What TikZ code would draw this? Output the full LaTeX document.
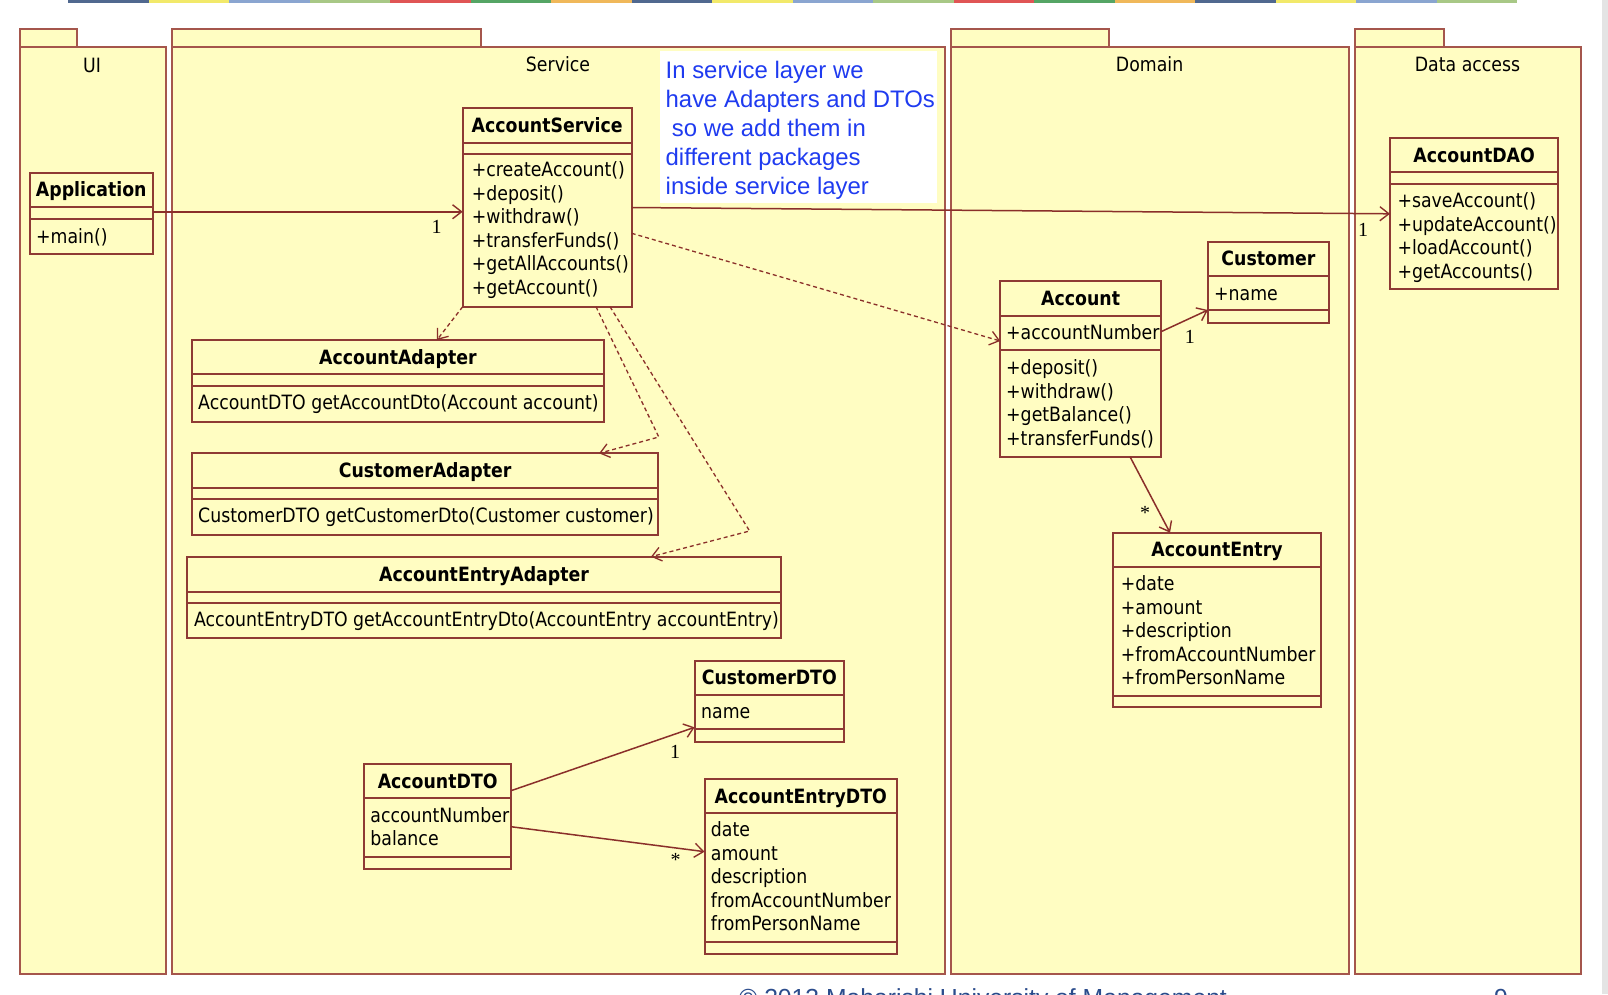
\documentclass[tikz,border=0pt]{standalone}
\usepackage{fontspec}
\setmainfont{DejaVu Sans}[FakeStretch=0.88]
\newfontfamily\notefont{Liberation Sans}
\newfontfamily\multfont{Liberation Serif}
\usetikzlibrary{arrows.meta}

\definecolor{pkgfill}{HTML}{FFFDC2}
\definecolor{pkgline}{HTML}{A5564C}
\definecolor{clsline}{HTML}{8E3A34}
\definecolor{conn}{HTML}{8A2F2A}
\definecolor{notetext}{HTML}{1F3BF0}
\definecolor{foot}{HTML}{2B4C8C}
\definecolor{edge}{HTML}{E4E4E4}
\definecolor{sA}{HTML}{50688F}
\definecolor{sB}{HTML}{F2E96A}
\definecolor{sC}{HTML}{8AA5D0}
\definecolor{sD}{HTML}{A8C886}
\definecolor{sE}{HTML}{E05555}
\definecolor{sF}{HTML}{55A565}
\definecolor{sG}{HTML}{F0B85A}

\newcommand{\umlfont}{\fontsize{19.7}{23.5}\selectfont}
\newcommand{\umlbold}{\umlfont\bfseries}

\tikzset{
  pkg/.style={draw=pkgline, fill=pkgfill, line width=2pt},
  pkglabel/.style={font=\umlfont, anchor=base, inner sep=0pt},
  cls/.style={rectangle, draw=clsline, fill=pkgfill, line width=2pt,
    inner sep=0pt, outer sep=0pt},
  cdiv/.style={draw=clsline, line width=2pt},
  ctitle/.style={font=\umlbold, anchor=base, inner sep=0pt},
  mem/.style={font=\umlfont, anchor=base west, inner sep=0pt},
  mult/.style={font=\multfont\fontsize{20}{22}\selectfont, inner sep=0pt},
  assoc/.style={draw=conn, line width=1.5pt,
    -{Straight Barb[length=9pt,width=14pt,line width=1.4pt]}},
  dep/.style={draw=conn, line width=1.3pt, dash pattern=on 4pt off 3pt,
    -{Straight Barb[length=9pt,width=14pt,line width=1.3pt]}},
  notebox/.style={fill=white, draw=none},
  noteline/.style={font=\notefont\fontsize{23.9}{28.9}\selectfont,
    text=notetext, anchor=base west, inner sep=0pt},
}

% class box: name, x1, y1, x2, y2, first divider, second divider, title
\newcommand{\umlclass}[8]{%
  \node[cls, anchor=north west, minimum width={#4-#2}, minimum height={#5-#3}]
    (#1) at (#2,#3) {};
  \draw[cdiv] (#2,#6) -- (#4,#6) (#2,#7) -- (#4,#7);
  \node[ctitle] (#1-title) at ({(#2+#4)/2},{(#3+#6)/2+7}) {#8};
}
% member lines: name, x, first baseline, line step, list
\newcommand{\umlmembers}[5]{%
  \foreach \m [count=\k from 0] in {#5}
    \node[mem] (#1-\k) at (#2,{#3+#4*\k}) {\m};
}

\begin{document}
\begin{tikzpicture}[x=1pt,y=-1pt]
\useasboundingbox (0,0) rectangle (1608,994);
\fill[white] (0,0) rectangle (1608,994);
\fill[edge] (1602,0) rectangle (1608,994);

% colour band along the top edge
\foreach \c [count=\i from 0] in {sA,sB,sC,sD,sE,sF,sG,sA,sB,sC,sD,sE,sF,sG,sA,sB,sC,sD}
  \fill[\c] ({68+80.5*\i},0) rectangle ++(80.5,3);

% packages
\draw[pkg] (19.5,29.2) rectangle (76.5,46.5);
\draw[pkg] (19.5,46.5) rectangle (165.5,974);
\node[pkglabel] (lblUI) at (92,72) {UI};

\draw[pkg] (172.3,29.2) rectangle (480.7,46.5);
\draw[pkg] (172.3,46.5) rectangle (945,974);
\node[pkglabel] (lblService) at (558,71.5) {Service};

\draw[pkg] (950.6,29.2) rectangle (1108.6,46.5);
\draw[pkg] (950.6,46.5) rectangle (1348.5,974);
\node[pkglabel] (lblDomain) at (1149.6,71.5) {Domain};

\draw[pkg] (1354.7,29.2) rectangle (1444,46.5);
\draw[pkg] (1354.7,46.5) rectangle (1580.5,974);
\node[pkglabel] (lblData) at (1467.5,71.5) {Data access};

% note inside the service package
\fill[notebox] (660.4,51.3) rectangle (937,203);
\node[noteline] (note1) at (665.5,78.5) {In service layer we};
\node[noteline] (note2) at (665.5,107.4) {have Adapters and DTOs};
\node[noteline] (note3) at (671.7,136.3) {so we add them in};
\node[noteline] (note4) at (665.5,165.2) {different packages};
\node[noteline] (note5) at (665.5,194.1) {inside service layer};

% UI
\umlclass{app}{29.5}{172.5}{153}{254}{206.5}{219}{Application}
\umlmembers{app}{36}{243}{23.5}{+main()}

% Service
\umlclass{svc}{462.7}{108.3}{631.7}{306.7}{142.7}{154}{AccountService}
\umlmembers{svc}{471.7}{176.5}{23.5}{+createAccount(),+deposit(),+withdraw(),+transferFunds(),+getAllAccounts(),+getAccount()}

\umlclass{aad}{191.8}{340}{604}{421.5}{374}{385.7}{AccountAdapter}
\umlmembers{aad}{198}{409}{23.5}{AccountDTO getAccountDto(Account account)}

\umlclass{cad}{191.8}{453.3}{658.4}{535}{487.7}{499.3}{CustomerAdapter}
\umlmembers{cad}{198}{522.5}{23.5}{CustomerDTO getCustomerDto(Customer customer)}

\umlclass{ead}{186.6}{556.7}{781.4}{638.3}{591.7}{602.7}{AccountEntryAdapter}
\umlmembers{ead}{193.8}{626}{23.5}{AccountEntryDTO getAccountEntryDto(AccountEntry accountEntry)}

\umlclass{cdto}{694.6}{660.7}{844}{741.7}{695}{729.3}{CustomerDTO}
\umlmembers{cdto}{701}{718.2}{23.5}{name}

\umlclass{adto}{364.3}{764.3}{511}{868.7}{798.3}{856.7}{AccountDTO}
\umlmembers{adto}{370.2}{822.2}{23.3}{accountNumber,balance}

\umlclass{edto}{704.6}{779.3}{897}{954}{813.3}{941.7}{AccountEntryDTO}
\umlmembers{edto}{710.7}{836.5}{23.5}{date,amount,description,fromAccountNumber,fromPersonName}

% Domain
\umlclass{acc}{1000.2}{280.7}{1161}{456.7}{315.7}{350}{Account}
\umlmembers{acc-a}{1006}{339.8}{23.5}{+accountNumber}
\umlmembers{acc}{1006}{374.8}{23.5}{+deposit(),+withdraw(),+getBalance(),+transferFunds()}

\umlclass{cust}{1207.9}{241.7}{1328.9}{323.3}{276}{310}{Customer}
\umlmembers{cust}{1214}{300.8}{23.5}{+name}

\umlclass{entry}{1113.3}{532.7}{1320.7}{707.3}{566.7}{696}{AccountEntry}
\umlmembers{entry}{1120.7}{590.8}{23.5}{+date,+amount,+description,+fromAccountNumber,+fromPersonName}

% Data access
\umlclass{dao}{1390}{138.3}{1558.3}{289.3}{172.3}{184}{AccountDAO}
\umlmembers{dao}{1397.3}{207.5}{23.5}{+saveAccount(),+updateAccount(),+loadAccount(),+getAccounts()}

% associations
\draw[assoc] ([yshift=1.5pt]app.east) -- ([yshift=1.5pt]app.east -| svc.west);
\node[mult] (m1) at (436.7,226.7) {1};
\draw[assoc] (svc.east) -- (dao.west);
\node[mult] (m2) at (1363,230) {1};
\draw[assoc] ([yshift=-51pt]acc.north east) -- ([yshift=13.3pt]cust.south west);
\node[mult] (m3) at (1189.8,336.7) {1};
\draw[assoc] ([xshift=49.4pt]acc.south) -- ([xshift=-47pt]entry.north);
\node[mult] (m4) at (1145,512.7) {*};
\draw[assoc] ([yshift=-26.4pt]adto.north east) -- ([yshift=14.4pt]cdto.south west);
\node[mult] (m5) at (675,751.7) {1};
\draw[assoc] ([yshift=-10.2pt]adto.east) -- ([yshift=15pt]edto.west);
\node[mult] (m6) at (675.7,860) {*};

% dependencies
\coordinate (bendC) at (658.8,437);
\coordinate (bendE) at (749.6,531);
\draw[dep] ([yshift=-25.8pt]svc.east) -- ([yshift=27.7pt]acc.west);
\draw[dep] (svc.south west) -- ([xshift=39pt]aad.north);
\draw[dep] ([xshift=48.8pt]svc.south) -- (bendC) -- ([xshift=174pt]cad.north);
\draw[dep] ([xshift=62.8pt]svc.south) -- (bendE) -- ([xshift=167pt]ead.north);

% footer line, cut by the lower edge
\begin{scope}
  \clip (0,0) rectangle (1608,994);
  \node[font=\notefont\fontsize{24.7}{28}\selectfont, text=foot, anchor=base west, inner sep=0pt]
    (footer) at (739,1006) {\textcopyright\ 2013 Maharishi University of Management};
  \node[font=\notefont\fontsize{24.7}{28}\selectfont, text=foot, anchor=base west, inner sep=0pt]
    (pageno) at (1494,1006) {9};
\end{scope}
\end{tikzpicture}
\end{document}
